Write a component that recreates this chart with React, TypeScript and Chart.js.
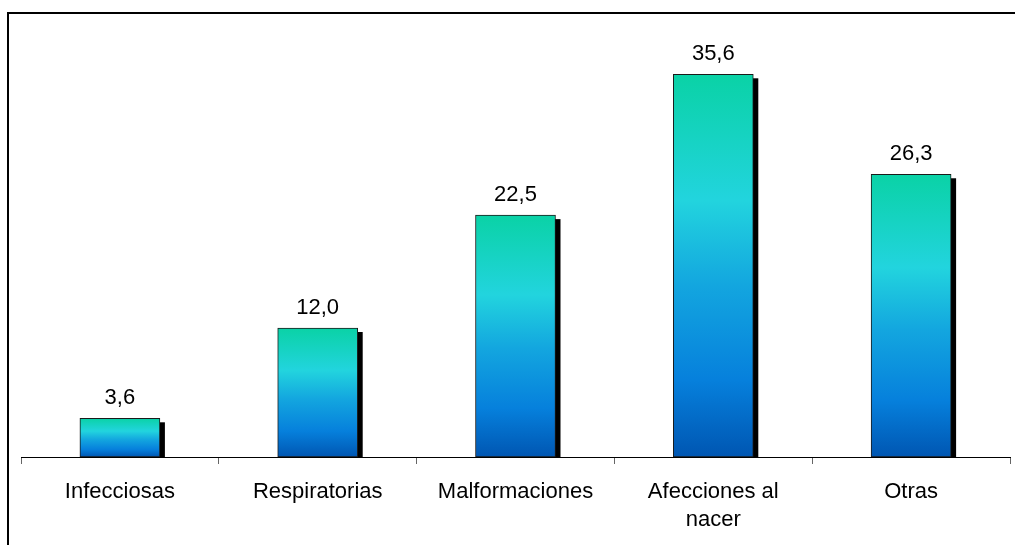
import React, { useEffect, useRef } from "react";
import { Chart, registerables } from "chart.js";

Chart.register(...registerables);

const categories: (string | string[])[] = [
  "Infecciosas",
  "Respiratorias",
  "Malformaciones",
  ["Afecciones al", "nacer"],
  "Otras",
];
const values: number[] = [3.6, 12.0, 22.5, 35.6, 26.3];
const valueLabels: string[] = ["3,6", "12,0", "22,5", "35,6", "26,3"];

const FONT = "'Liberation Sans', Arial, sans-serif";

const shadowPlugin = {
  id: "barShadow",
  beforeDatasetsDraw(chart: any) {
    const { ctx } = chart;
    const meta = chart.getDatasetMeta(0);
    ctx.save();
    ctx.fillStyle = "#000000";
    meta.data.forEach((bar: any) => {
      const p = bar.getProps(["x", "y", "base", "width"], true);
      const right = p.x + p.width / 2;
      ctx.fillRect(right - 1, p.y + 4, 6, p.base - p.y - 4);
    });
    ctx.restore();
  },
};

const valueLabelPlugin = {
  id: "valueLabels",
  afterDatasetsDraw(chart: any) {
    const { ctx } = chart;
    const meta = chart.getDatasetMeta(0);
    ctx.save();
    ctx.fillStyle = "#000000";
    ctx.font = `22px ${FONT}`;
    ctx.textAlign = "center";
    ctx.textBaseline = "alphabetic";
    meta.data.forEach((bar: any, i: number) => {
      const p = bar.getProps(["x", "y"], true);
      ctx.fillText(valueLabels[i], p.x, p.y - 14);
    });
    ctx.restore();
  },
};

const framePlugin = {
  id: "frame",
  afterDraw(chart: any) {
    const { ctx } = chart;
    ctx.save();
    ctx.strokeStyle = "#000000";
    ctx.lineWidth = 2;
    ctx.beginPath();
    ctx.moveTo(8, 600);
    ctx.lineTo(8, 13);
    ctx.lineTo(1100, 13);
    ctx.stroke();
    ctx.restore();
  },
};

export default function App() {
  const canvasRef = useRef<HTMLCanvasElement | null>(null);

  useEffect(() => {
    if (!canvasRef.current) return;
    const chart = new Chart(canvasRef.current, {
      type: "bar",
      data: {
        labels: categories,
        datasets: [
          {
            data: values,
            borderColor: "#1a1a1a",
            borderWidth: 1,
            borderSkipped: false,
            barThickness: 80,
            backgroundColor: (c: any) => {
              const ch = c.chart;
              const { ctx, chartArea, scales } = ch;
              if (!chartArea || c.type !== "data" || !scales.y) return "#14ABDF";
              const top = scales.y.getPixelForValue(c.raw);
              const bot = scales.y.getPixelForValue(0);
              if (!isFinite(top) || !isFinite(bot) || bot - top < 1) return "#14ABDF";
              const g = ctx.createLinearGradient(0, top, 0, bot);
              g.addColorStop(0, "#0AD2A6");
              g.addColorStop(0.33, "#22D4DE");
              g.addColorStop(0.55, "#13A6DF");
              g.addColorStop(0.8, "#0680DC");
              g.addColorStop(1, "#0056B2");
              return g;
            },
          },
        ],
      },
      options: {
        animation: false,
        responsive: false,
        maintainAspectRatio: false,
        layout: { padding: { left: 21, right: 5, top: 27, bottom: 0 } },
        plugins: {
          legend: { display: false },
          tooltip: { enabled: false },
        },
        scales: {
          x: {
            offset: true,
            grid: {
              offset: true,
              drawOnChartArea: false,
              drawTicks: true,
              tickLength: 7,
              color: "#666666",
              lineWidth: 1,
            },
            border: { display: true, color: "#000000", width: 1 },
            ticks: {
              color: "#000000",
              font: { family: FONT, size: 22, lineHeight: 1.27 },
              padding: 14,
              maxRotation: 0,
              autoSkip: false,
            },
            afterFit: (scale: any) => {
              scale.height = 545 - 457;
            },
          },
          y: {
            display: false,
            min: 0,
            max: 40,
          },
        },
      },
      plugins: [shadowPlugin, valueLabelPlugin, framePlugin],
    });
    return () => chart.destroy();
  }, []);

  return (
    <div style={{ position: "fixed", left: 0, top: 0, width: 1015, height: 545, background: "#ffffff" }}>
      <canvas ref={canvasRef} width={1015} height={545} style={{ width: 1015, height: 545, display: "block" }} />
    </div>
  );
}
